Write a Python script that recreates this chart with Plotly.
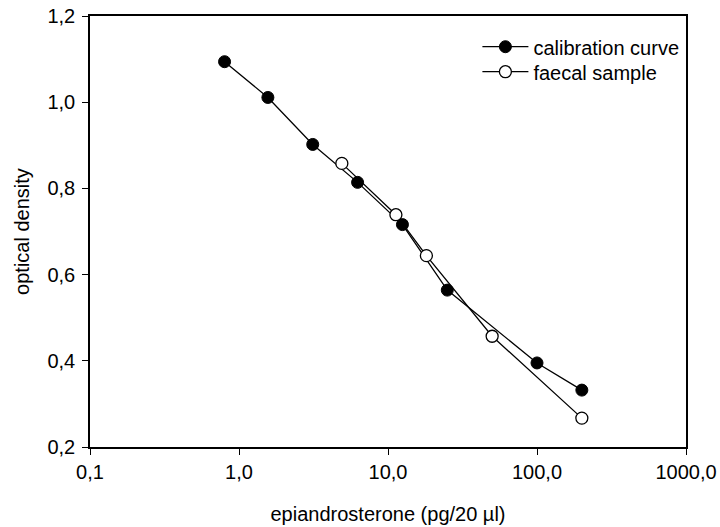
import plotly.graph_objects as go

calib_x = [0.8, 1.5625, 3.125, 6.25, 12.5, 25, 100, 200]
calib_y = [1.094, 1.011, 0.902, 0.814, 0.716, 0.564, 0.395, 0.332]

faecal_x = [4.9, 11.3, 18.1, 50, 200]
faecal_y = [0.858, 0.739, 0.644, 0.457, 0.267]

x_tickvals = [0.1, 1, 10, 100, 1000]
x_ticktext = ["0,1", "1,0", "10,0", "100,0", "1000,0"]
y_tickvals = [0.2, 0.4, 0.6, 0.8, 1.0, 1.2]
y_ticktext = ["0,2", "0,4", "0,6", "0,8", "1,0", "1,2"]

font = dict(family="Liberation Sans, Arial, sans-serif", size=20, color="black")

fig = go.Figure()
fig.add_trace(go.Scatter(
    x=calib_x, y=calib_y, mode="lines+markers", name="calibration curve",
    line=dict(color="black", width=1.3),
    marker=dict(symbol="circle", size=12, color="black", line=dict(color="black", width=1)),
    legend="legend",
))
fig.add_trace(go.Scatter(
    x=faecal_x, y=faecal_y, mode="lines+markers", name="faecal sample",
    line=dict(color="black", width=1.3),
    marker=dict(symbol="circle", size=12, color="white", line=dict(color="black", width=1.3)),
    legend="legend2",
))

leg_common = dict(xanchor="left", yanchor="top", bgcolor="rgba(0,0,0,0)",
                  font=font, itemwidth=46)

fig.update_layout(
    width=720, height=527,
    margin=dict(l=90, r=34, t=16, b=80),
    paper_bgcolor="white", plot_bgcolor="white",
    font=font,
    showlegend=True,
    legend=dict(x=0.65, y=0.974, **leg_common),
    legend2=dict(x=0.65, y=0.916, **leg_common),
    xaxis=dict(
        type="log", range=[-1, 3], automargin=False,
        tickvals=x_tickvals, ticktext=x_ticktext,
        ticks="outside", ticklen=6, tickwidth=1, tickcolor="black",
        showline=True, linecolor="black", linewidth=1.5, mirror=True,
        showgrid=False, zeroline=False,
        title=dict(text="epiandrosterone (pg/20 µl)", font=font, standoff=25),
    ),
    yaxis=dict(
        range=[0.2, 1.2], automargin=False,
        tickvals=y_tickvals, ticktext=y_ticktext,
        ticks="outside", ticklen=6, tickwidth=1, tickcolor="black",
        showline=True, linecolor="black", linewidth=1.5, mirror=True,
        showgrid=False, zeroline=False,
        ticklabelstandoff=3,
        title=dict(text="optical density", font=font, standoff=12),
    ),
)

fig.write_html("out.html")
